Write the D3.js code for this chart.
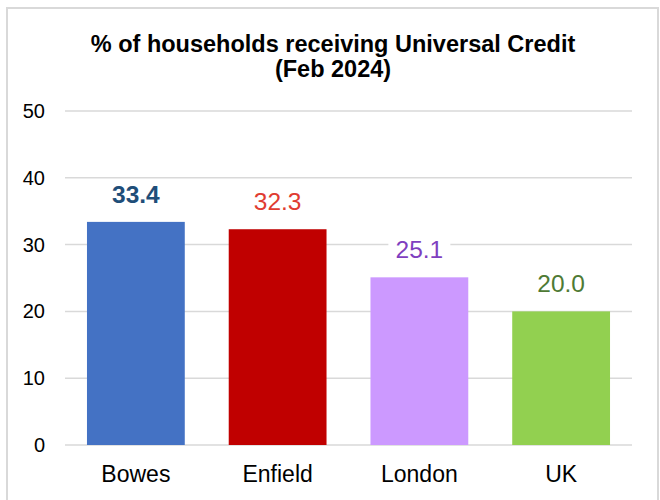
<html>
<head>
<script src="https://d3js.org/d3.v7.min.js"></script>
<style>
  body { margin: 0; background: #fff; }
  text { font-family: "Liberation Sans", Arial, sans-serif; }
</style>
</head>
<body>
<script>
var categories = ["Bowes", "Enfield", "London", "UK"];
var values = [33.4, 32.3, 25.1, 20.0];
var barColors = ["#4472C4", "#C00000", "#CC99FF", "#92D050"];
var labelColors = ["#1F4E79", "#E03C31", "#7F3FBF", "#4E7A34"];
var yTicks = [0, 10, 20, 30, 40, 50];

var width = 660, height = 500;
var margin = {top: 111, right: 28, bottom: 55, left: 65};

var svg = d3.select("body").append("svg")
    .attr("width", width)
    .attr("height", height);

// outer frame (bottom edge falls outside the picture)
svg.append("rect")
    .attr("x", 7).attr("y", 8)
    .attr("width", 651).attr("height", 520)
    .attr("fill", "none")
    .attr("stroke", "#d9d9d9")
    .attr("stroke-width", 2);

svg.append("text")
    .attr("x", 333).attr("y", 52)
    .attr("text-anchor", "middle")
    .attr("font-size", 23.5).attr("font-weight", "bold")
    .attr("fill", "#000")
    .text("% of households receiving Universal Credit");
svg.append("text")
    .attr("x", 333).attr("y", 77)
    .attr("text-anchor", "middle")
    .attr("font-size", 23.5).attr("font-weight", "bold")
    .attr("fill", "#000")
    .text("(Feb 2024)");

var x = d3.scaleBand()
    .domain(categories)
    .range([margin.left, width - margin.right])
    .paddingInner(0.31)
    .paddingOuter(0.155);

var y = d3.scaleLinear()
    .domain([0, 50])
    .range([height - margin.bottom, margin.top]);

// grid
svg.append("g")
    .selectAll("line")
    .data(yTicks).enter()
    .append("line")
    .attr("x1", margin.left).attr("x2", width - margin.right)
    .attr("y1", d => y(d)).attr("y2", d => y(d))
    .attr("stroke", "#d9d9d9")
    .attr("stroke-width", 1.5);

var yAxis = svg.append("g")
    .attr("transform", "translate(" + margin.left + ",0)")
    .call(d3.axisLeft(y).tickValues(yTicks).tickSize(0).tickPadding(20));
yAxis.select(".domain").remove();
yAxis.selectAll("text")
    .attr("font-size", 20)
    .attr("fill", "#000")
    .attr("font-family", "Liberation Sans, Arial, sans-serif");

svg.append("g")
    .selectAll("rect")
    .data(values).enter()
    .append("rect")
    .attr("x", (d, i) => x(categories[i]))
    .attr("y", d => y(d))
    .attr("width", x.bandwidth())
    .attr("height", d => y(0) - y(d))
    .attr("fill", (d, i) => barColors[i]);

// value labels with white backing
var lbl = svg.append("g")
    .selectAll("g")
    .data(values).enter()
    .append("g")
    .attr("transform", (d, i) => "translate(" + (x(categories[i]) + x.bandwidth() / 2) + "," + (y(d) - 19) + ")");
lbl.append("rect")
    .attr("x", -31).attr("y", -22)
    .attr("width", 62).attr("height", 28)
    .attr("fill", "#fff");
lbl.append("text")
    .attr("text-anchor", "middle")
    .attr("font-size", 24.5)
    .attr("font-weight", (d, i) => i === 0 ? "bold" : "normal")
    .attr("fill", (d, i) => labelColors[i])
    .text(d => d.toFixed(1));

var xAxis = svg.append("g")
    .attr("transform", "translate(0," + y(0) + ")")
    .call(d3.axisBottom(x).tickSize(0).tickPadding(0));
xAxis.select(".domain").remove();
xAxis.selectAll("text")
    .attr("dy", null)
    .attr("y", 37)
    .attr("font-size", 23)
    .attr("fill", "#000")
    .attr("font-family", "Liberation Sans, Arial, sans-serif");
</script>
</body>
</html>
